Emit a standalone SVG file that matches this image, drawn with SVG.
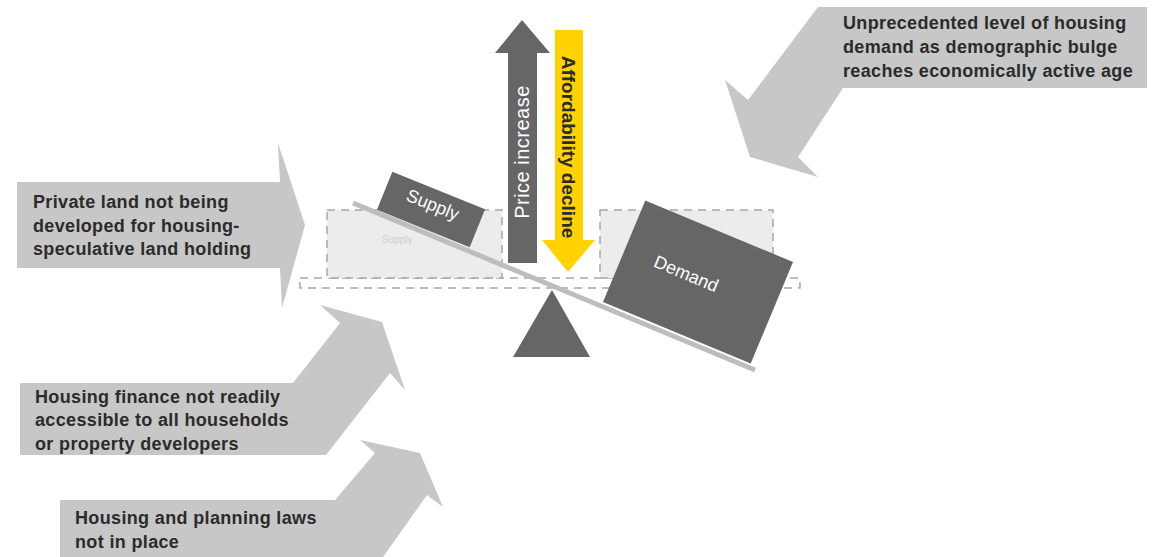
<svg xmlns="http://www.w3.org/2000/svg" width="1163" height="557" viewBox="0 0 1163 557">
  <style>
    .force { fill: #c7c7c7; }
    .label { font-family: "Liberation Sans", Arial, sans-serif; font-weight: bold; font-size: 18px; fill: #2b2b2b; letter-spacing: 0.35px; }
    .slot { fill: #ececec; stroke: #a6a6a6; stroke-width: 1.5; stroke-dasharray: 8 6; }
    .dark { fill: #666666; }
    .boxtext { font-family: "Liberation Sans", Arial, sans-serif; font-size: 18px; fill: #ffffff; text-anchor: middle; }
  </style>

  <!-- external pressures -->
  <g id="force-land">
    <polygon class="force" points="17,182 280,182 278,143 305,225 282,308 280,268 17,268"/>
    <text class="label" x="33" y="208">Private land not being</text>
    <text class="label" x="33" y="232">developed for housing-</text>
    <text class="label" x="33" y="255">speculative land holding</text>
  </g>

  <g id="force-finance">
    <polygon class="force" points="20,383 293,383 340,323 320,305 382,322 405,390 390,373 326,455 20,455"/>
    <text class="label" x="35" y="403">Housing finance not readily</text>
    <text class="label" x="35" y="426">accessible to all households</text>
    <text class="label" x="35" y="450">or property developers</text>
  </g>

  <g id="force-laws">
    <polygon class="force" points="60,500 335,500 375,453 360,440 420,453 443,507 427,495 383,557 60,557"/>
    <text class="label" x="75" y="524">Housing and planning laws</text>
    <text class="label" x="75" y="548">not in place</text>
  </g>

  <g id="force-demand">
    <polygon class="force" points="818,7 1147,7 1147,88 843,88 798,157 818,177 750,157 725,80 748,100"/>
    <text class="label" x="843" y="29">Unprecedented level of housing</text>
    <text class="label" x="843" y="53">demand as demographic bulge</text>
    <text class="label" x="843" y="77">reaches economically active age</text>
  </g>

  <!-- balance: resting positions -->
  <g id="balance-frame">
    <rect class="slot" x="300" y="278" width="500" height="10" style="fill:none"/>
    <rect class="slot" x="327" y="210" width="175" height="68"/>
    <rect class="slot" x="600" y="210" width="173" height="68"/>
    <text x="382" y="243" font-family="Liberation Sans, Arial, sans-serif" font-size="10" fill="#cfcfcf">Supply</text>
  </g>

  <!-- beam and fulcrum -->
  <g id="beam">
    <line x1="353" y1="203" x2="755" y2="370" stroke="#bdbdbd" stroke-width="5"/>
  </g>
  <g id="fulcrum">
    <polygon class="dark" points="552,290 590,357 513,357"/>
  </g>

  <g id="supply">
    <g transform="translate(431,209.5) rotate(22)">
      <rect class="dark" x="-50" y="-20.5" width="100" height="41"/>
      <text class="boxtext" x="0" y="1">Supply</text>
    </g>
  </g>

  <g id="demand">
    <g transform="translate(698,282) rotate(22.6)">
      <rect class="dark" x="-80" y="-55" width="160" height="110"/>
      <text class="boxtext" x="-14" y="3">Demand</text>
    </g>
  </g>

  <!-- market effects -->
  <g id="price-increase">
    <polygon class="dark" points="508,263 508,53 495,53 522,20 550,53 537,53 537,263"/>
    <text transform="translate(529,152) rotate(-90)" font-family="Liberation Sans, Arial, sans-serif" font-size="20" letter-spacing="0.5" fill="#ffffff" text-anchor="middle">Price increase</text>
  </g>

  <g id="affordability-decline">
    <polygon fill="#ffd200" points="555,30 583,30 583,240 595,240 568,272 542,240 555,240"/>
    <text transform="translate(562,147) rotate(90)" font-family="Liberation Sans, Arial, sans-serif" font-size="19" font-weight="bold" fill="#2b2b2b" text-anchor="middle">Affordability decline</text>
  </g>
</svg>
